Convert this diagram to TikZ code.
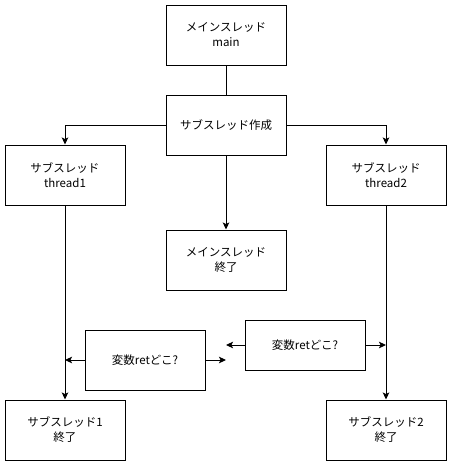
\documentclass[tikz,border=0pt]{standalone}
\usepackage{fontspec}
\setmainfont{Noto Sans CJK JP}
\usepackage{tikz}
\usetikzlibrary{arrows.meta, positioning}

\tikzset{
    box/.style={draw, line width=1pt, minimum width=120pt, minimum height=60pt,
        inner sep=0pt, align=center, font=\fontsize{11.5}{15}\selectfont},
    flow/.style={line width=1pt, -{Stealth[length=7pt,width=6.5pt,inset=1.5pt]}}
}

\begin{document}
\begin{tikzpicture}[x=1pt,y=-1pt]
    \useasboundingbox (0,0) rectangle (452,466);

    % Main thread
    \node[box] (main) at (226,35) {メインスレッド\\main};
    \node[box] (create) at (226,125) {サブスレッド作成};
    \node[box] (mainend) at (226,260) {メインスレッド\\終了};

    % Sub threads
    \node[box] (thA) at (65,175) {サブスレッド\\thread1};
    \node[box] (thB) at (386,175) {サブスレッド\\thread2};
    \node[box] (thAend) at (65,430) {サブスレッド1\\終了};
    \node[box] (thBend) at (386,430) {サブスレッド2\\終了};

    % Where is ret?
    \node[box] (varA) at (145,360) {変数retどこ?};
    \node[box, minimum height=50pt] (varB) at (305,345) {変数retどこ?};
    \coordinate (varAr) at (226,360);
    \coordinate (varBl) at (226,345);

    \draw[line width=1pt] (main) -- (create);
    \draw[flow] (create.west) -| (thA.north);
    \draw[flow] (create.east) -| (thB.north);
    \draw[flow] (create) -- (mainend);
    \draw[flow] (thA) -- (thAend);
    \draw[flow] (thB) -- (thBend);

    \draw[flow] (varA.west) -- (varA.west -| thA.south);
    \draw[flow] (varA.east) -- (varAr);
    \draw[flow] (varB.west) -- (varBl);
    \draw[flow] (varB.east) -- (varB.east -| thB.south);

\end{tikzpicture}
\end{document}
